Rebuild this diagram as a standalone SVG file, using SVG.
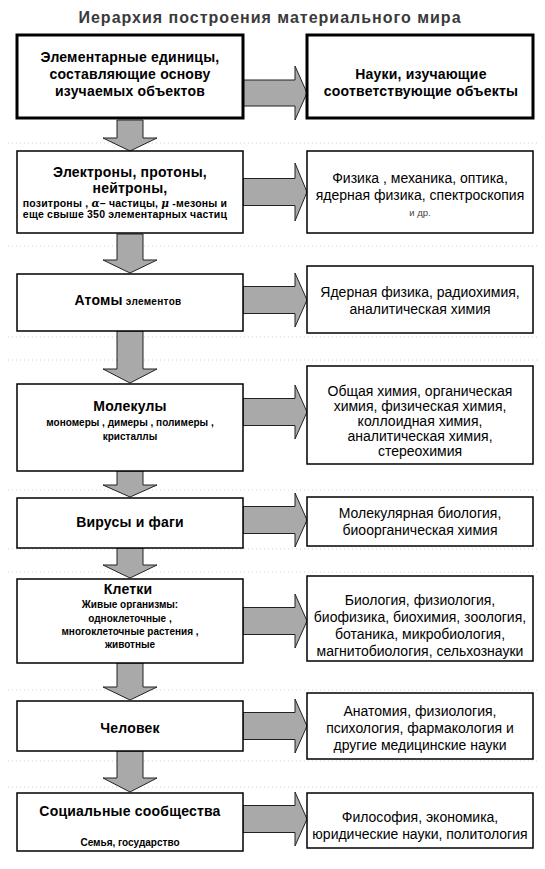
<svg xmlns="http://www.w3.org/2000/svg" width="545" height="869" viewBox="0 0 545 869">
<style>
.bg{fill:#ffffff}
.box{fill:#ffffff;stroke:#000;stroke-width:1.5}
.thick{fill:#ffffff;stroke:#000;stroke-width:3}
.arr{fill:#a9a9a9;stroke:#222;stroke-width:1}
.grid{stroke:#d0d0d0;stroke-width:1;stroke-dasharray:1 3;fill:none}
text{font-family:"Liberation Sans",Arial,sans-serif;fill:#000;text-anchor:middle}
.h{font-size:14px;font-weight:bold;letter-spacing:0.2px}
.r{font-size:14px}
.s{font-size:10px;font-weight:bold}
.s2{font-size:10.5px;font-weight:bold;letter-spacing:0.2px}
.sn{font-size:9.5px;fill:#444}
.title{font-size:16px;font-weight:bold;fill:#3a3a3a;letter-spacing:1px}
</style>
<rect class="bg" x="0" y="0" width="545" height="869"/>

<g id="grid">
  <path class="grid" d="M8 143H540M8 246H540M8 337H540M8 360H540M8 490H540M8 549H540M8 572H540M8 690H540M8 761H540M8 787H540"/>
</g>

<text class="title" x="270" y="23">Иерархия построения материального мира</text>

<g id="connectors">
  <!-- right arrows -->
  <polygon class="arr" points="243,80 295,80 295,66 307,93 295,120 295,106 243,106"/>
  <polygon class="arr" points="243,178.5 295,178.5 295,163 307,192 295,221 295,205.5 243,205.5"/>
  <polygon class="arr" points="243,286.5 295,286.5 295,273 307,300 295,327 295,313.5 243,313.5"/>
  <polygon class="arr" points="243,398.5 295,398.5 295,385 307,412 295,439 295,425.5 243,425.5"/>
  <polygon class="arr" points="243,506.5 295,506.5 295,493 307,520 295,547 295,533.5 243,533.5"/>
  <polygon class="arr" points="243,607.5 295,607.5 295,594 307,621 295,648 295,634.5 243,634.5"/>
  <polygon class="arr" points="243,712.5 295,712.5 295,699 307,726 295,753 295,739.5 243,739.5"/>
  <polygon class="arr" points="243,805.5 295,805.5 295,792 307,819 295,846 295,832.5 243,832.5"/>
  <!-- down arrows -->
  <polygon class="arr" points="117,120 143,120 143,138 157,138 130,151 103,138 117,138"/>
  <polygon class="arr" points="117,234 143,234 143,260 157,260 130,273 103,260 117,260"/>
  <polygon class="arr" points="117,331 143,331 143,369 157,369 130,383 103,369 117,369"/>
  <polygon class="arr" points="117,471 143,471 143,485 157,485 130,497 103,485 117,485"/>
  <polygon class="arr" points="117,548 143,548 143,565 157,565 130,578 103,565 117,565"/>
  <polygon class="arr" points="117,663 143,663 143,687 157,687 130,700 103,687 117,687"/>
  <polygon class="arr" points="117,751 143,751 143,778 157,778 130,792 103,778 117,778"/>
</g>

<g id="n1">
  <rect class="thick" x="17" y="35" width="226" height="83"/>
  <text class="h" x="130" y="62">Элементарные единицы,</text>
  <text class="h" x="130" y="79">составляющие основу</text>
  <text class="h" x="130" y="96">изучаемых объектов</text>
</g>
<g id="s1">
  <rect class="thick" x="307" y="35" width="226" height="83"/>
  <text class="h" x="421" y="79">Науки, изучающие</text>
  <text class="h" x="421" y="96">соответствующие объекты</text>
</g>

<g id="n2">
  <rect class="box" x="17" y="151" width="226" height="82"/>
  <text class="h" x="130" y="177">Электроны, протоны,</text>
  <text class="h" x="130" y="193">нейтроны,</text>
  <text class="s2" x="125" y="207">позитроны , <tspan font-style="italic" font-family="'DejaVu Serif',serif">α</tspan>– частицы,  <tspan font-style="italic" font-family="'DejaVu Serif',serif">μ</tspan> -мезоны и</text>
  <text class="s2" x="125" y="218">еще свыше 350 элементарных частиц</text>
</g>
<g id="s2">
  <rect class="box" x="307" y="151" width="226" height="82"/>
  <text class="r" x="420" y="183">Физика , механика, оптика,</text>
  <text class="r" x="420" y="200">ядерная физика, спектроскопия</text>
  <text class="sn" x="420" y="216">и др.</text>
</g>

<g id="n3">
  <rect class="box" x="17" y="274" width="226" height="57"/>
  <text x="128" y="305"><tspan class="h">Атомы</tspan><tspan class="s" letter-spacing="0.3px"> элементов</tspan></text>
</g>
<g id="s3">
  <rect class="box" x="307" y="266" width="226" height="67"/>
  <text class="r" x="420" y="297">Ядерная физика, радиохимия,</text>
  <text class="r" x="420" y="314">аналитическая химия</text>
</g>

<g id="n4">
  <rect class="box" x="17" y="384" width="226" height="87"/>
  <text class="h" x="130" y="411">Молекулы</text>
  <text class="s" x="130" y="426">мономеры , димеры , полимеры ,</text>
  <text class="s" x="130" y="440">кристаллы</text>
</g>
<g id="s4">
  <rect class="box" x="307" y="366" width="226" height="98"/>
  <text class="r" x="420" y="396">Общая химия, органическая</text>
  <text class="r" x="420" y="411">химия, физическая химия,</text>
  <text class="r" x="420" y="426">коллоидная химия,</text>
  <text class="r" x="420" y="441">аналитическая химия,</text>
  <text class="r" x="420" y="456">стереохимия</text>
</g>

<g id="n5">
  <rect class="box" x="17" y="498" width="226" height="50"/>
  <text class="h" x="130" y="527">Вирусы и фаги</text>
</g>
<g id="s5">
  <rect class="box" x="307" y="497" width="226" height="49"/>
  <text class="r" x="420" y="518">Молекулярная биология,</text>
  <text class="r" x="420" y="535">биоорганическая химия</text>
</g>

<g id="n6">
  <rect class="box" x="17" y="579" width="226" height="84"/>
  <text class="h" font-size="16px" x="128" y="594">Клетки</text>
  <text class="s" x="130" y="608">Живые организмы:</text>
  <text class="s" x="130" y="622">одноклеточные ,</text>
  <text class="s" x="130" y="635">многоклеточные растения ,</text>
  <text class="s" x="130" y="648">животные</text>
</g>
<g id="s6">
  <rect class="box" x="307" y="576" width="226" height="85"/>
  <text class="r" x="420" y="605">Биология, физиология,</text>
  <text class="r" x="420" y="622">биофизика, биохимия, зоология,</text>
  <text class="r" x="420" y="639">ботаника, микробиология,</text>
  <text class="r" x="420" y="656">магнитобиология, сельхознауки</text>
</g>

<g id="n7">
  <rect class="box" x="17" y="701" width="226" height="50"/>
  <text class="h" x="130" y="733">Человек</text>
</g>
<g id="s7">
  <rect class="box" x="307" y="693" width="226" height="66"/>
  <text class="r" x="420" y="716">Анатомия, физиология,</text>
  <text class="r" x="420" y="733">психология, фармакология и</text>
  <text class="r" x="420" y="750">другие медицинские науки</text>
</g>

<g id="n8">
  <rect class="box" x="17" y="793" width="226" height="58"/>
  <text class="h" font-size="15px" x="130" y="816">Социальные сообщества</text>
  <text class="s" x="130" y="846">Семья, государство</text>
</g>
<g id="s8">
  <rect class="box" x="307" y="793" width="226" height="55"/>
  <text class="r" x="420" y="822">Философия, экономика,</text>
  <text class="r" x="420" y="839">юридические науки, политология</text>
</g>
</svg>
